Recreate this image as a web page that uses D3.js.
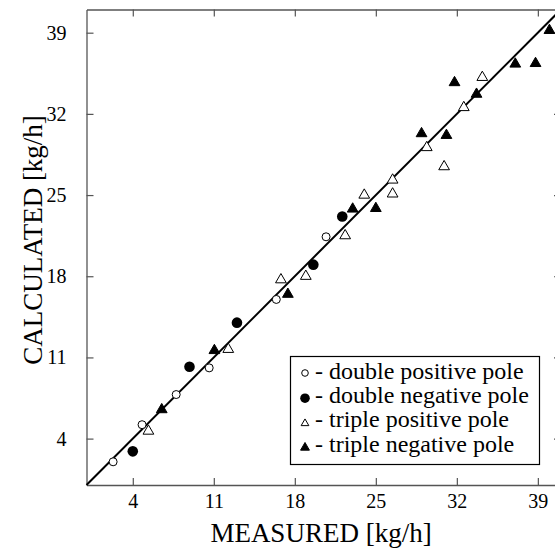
<!DOCTYPE html>
<html>
<head>
<meta charset="utf-8">
<script src="https://cdn.jsdelivr.net/npm/d3@7"></script>
<style>
    body{margin:0;background:#fff;}
    svg text{font-family:"Liberation Serif","Times New Roman",serif;fill:#000;}
</style>
</head>
<body>
<svg></svg>
<script>
// measured vs calculated, [x, y] pairs in kg/h
var doublePositive = [[2.3,2.0],[4.8,5.2],[7.75,7.8],[10.6,10.1],[16.4,16.0],[20.7,21.4]];
var doubleNegative = [[4.0,2.9],[8.9,10.2],[13.0,14.0],[19.6,19.0],[22.1,23.15]];
var triplePositive = [[5.35,4.65],[12.25,11.7],[16.8,17.7],[18.95,18.0],[22.35,21.5],[24.0,25.0],
    [26.45,26.3],[26.45,25.1],[29.4,29.1],[30.9,27.45],[32.6,32.55],[34.2,35.15]];
var tripleNegative = [[6.5,6.5],[11.05,11.6],[17.4,16.45],[23.0,23.8],[25.0,23.85],[28.95,30.3],
    [31.1,30.15],[31.8,34.7],[33.7,33.7],[37.05,36.3],[38.8,36.35],[40.0,39.2]];
var ticks = [4, 11, 18, 25, 32, 39];
var legendLabels = ['- double positive pole','- double negative pole','- triple positive pole','- triple negative pole'];

var width = 555,
    height = 549;

var svg = d3.select('svg')
    .attr('width', width)
    .attr('height', height);

var x = d3.scaleLinear().domain([0, 41]).range([86.5, 561]);
var y = d3.scaleLinear().domain([0, 41]).range([485, 9.5]);

function styleAxis(g){
    g.select('.domain').attr('stroke','#555').attr('stroke-width',1.3);
    g.selectAll('.tick line').attr('stroke','#555').attr('stroke-width',1.2);
    g.selectAll('.tick text').style('font-size','20px').attr('fill','#000');
}

svg.append('g')
    .attr('transform','translate(0,' + y(0) + ')')
    .call(d3.axisBottom(x).tickValues(ticks).tickSizeInner(-7).tickSizeOuter(0).tickPadding(9))
    .call(styleAxis);
svg.append('g')
    .attr('transform','translate(0,' + y(41) + ')')
    .call(d3.axisTop(x).tickValues(ticks).tickSizeInner(-7).tickSizeOuter(0).tickFormat(''))
    .call(styleAxis);
svg.append('g')
    .attr('transform','translate(' + x(0) + ',0)')
    .call(d3.axisLeft(y).tickValues(ticks).tickSizeInner(-7).tickSizeOuter(0).tickPadding(20))
    .call(styleAxis);
svg.append('g')
    .attr('transform','translate(' + x(41) + ',0)')
    .call(d3.axisRight(y).tickValues(ticks).tickSizeInner(-7).tickSizeOuter(0).tickFormat(''))
    .call(styleAxis);

// y = x line
svg.append('line')
    .attr('x1', x(0)).attr('y1', y(0))
    .attr('x2', x(41)).attr('y2', y(41))
    .attr('stroke','#000')
    .attr('stroke-width',2);

var tri = d3.symbol().type(d3.symbolTriangle).size(50);

svg.selectAll('.dpos').data(doublePositive).enter().append('circle')
    .attr('cx', function(d){ return x(d[0]); })
    .attr('cy', function(d){ return y(d[1]); })
    .attr('r', 4)
    .attr('fill','#fff').attr('stroke','#000').attr('stroke-width',1);
svg.selectAll('.dneg').data(doubleNegative).enter().append('circle')
    .attr('cx', function(d){ return x(d[0]); })
    .attr('cy', function(d){ return y(d[1]); })
    .attr('r', 5.3)
    .attr('fill','#000');
svg.selectAll('.tpos').data(triplePositive).enter().append('path')
    .attr('d', tri)
    .attr('transform', function(d){ return 'translate(' + x(d[0]) + ',' + y(d[1]) + ')'; })
    .attr('fill','#fff').attr('stroke','#000').attr('stroke-width',1);
svg.selectAll('.tneg').data(tripleNegative).enter().append('path')
    .attr('d', tri)
    .attr('transform', function(d){ return 'translate(' + x(d[0]) + ',' + y(d[1]) + ')'; })
    .attr('fill','#000').attr('stroke','#000').attr('stroke-width',1);

// legend
var legend = svg.append('g');
legend.append('rect')
    .attr('x', 290.5).attr('y', 356.5)
    .attr('width', 249).attr('height', 108)
    .attr('fill','#fff').attr('stroke','#000').attr('stroke-width',1.2);
legendLabels.forEach(function(t, i){
    var ly = 372 + i*24.2;
    if(i == 0){
        legend.append('circle').attr('cx',305).attr('cy',ly+1).attr('r',3.3)
            .attr('fill','#fff').attr('stroke','#000');
    }else if(i == 1){
        legend.append('circle').attr('cx',305).attr('cy',ly+2).attr('r',4.8).attr('fill','#000');
    }else{
        legend.append('path')
            .attr('d', d3.symbol().type(d3.symbolTriangle).size(i == 2 ? 26 : 34))
            .attr('transform','translate(305,' + (ly+3) + ')')
            .attr('fill', i == 2 ? '#fff' : '#000')
            .attr('stroke','#000');
    }
    legend.append('text')
        .attr('x', 315)
        .attr('y', ly + 7)
        .style('font-size','24px')
        .text(t);
});

svg.append('text')
    .attr('x', 321)
    .attr('y', 542)
    .attr('text-anchor','middle')
    .style('font-size','27px')
    .text('MEASURED [kg/h]');
svg.append('text')
    .attr('transform','translate(42,240) rotate(-90)')
    .attr('text-anchor','middle')
    .style('font-size','27px')
    .text('CALCULATED [kg/h]');
</script>
</body>
</html>
